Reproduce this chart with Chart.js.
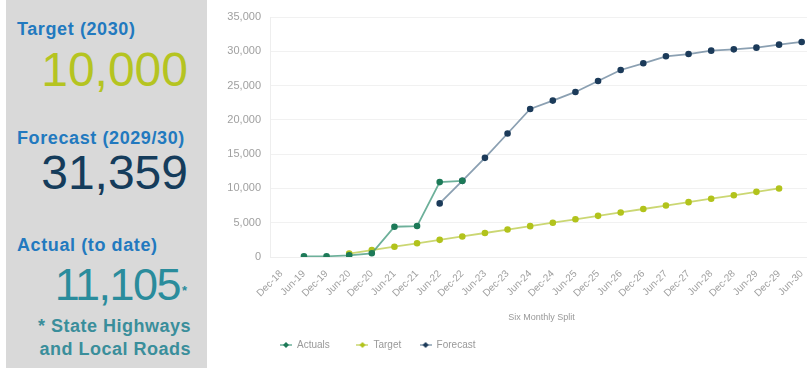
<!DOCTYPE html>
<html>
<head>
<meta charset="utf-8">
<script src="https://cdn.jsdelivr.net/npm/chart.js@4.4.1/dist/chart.umd.min.js"></script>
<style>
  html, body { margin: 0; padding: 0; background: #fff; }
  body { width: 807px; height: 371px; overflow: hidden; position: relative; font-family: "Liberation Sans", Arial, sans-serif; }
  #panel { position: absolute; left: 6px; top: 0; width: 201px; height: 368px; background: #d9d9d9; }
  .lbl { position: absolute; left: 17px; font-size: 18px; line-height: 18px; font-weight: bold; color: #2279bf; white-space: nowrap; letter-spacing: 0.6px; }
  .big { position: absolute; right: 619px; font-size: 48px; line-height: 48px; white-space: nowrap; }
  #actual { top: 262px; right: 627px; font-size: 45px; line-height: 45px; letter-spacing: -1.5px; color: #2a8c9c; }
  #star { position: absolute; left: 182px; top: 284px; font-size: 13px; line-height: 13px; font-weight: bold; color: #2a8c9c; }
  #note { position: absolute; right: 616px; top: 315px; font-size: 18px; line-height: 22.5px; font-weight: bold; color: #3a8e9b; text-align: right; white-space: nowrap; letter-spacing: 0.5px; }
  #wrap { position: absolute; left: 210px; top: 0; width: 620px; height: 371px; }
</style>
</head>
<body>
<div id="panel"></div>
<div class="lbl" style="top:20px">Target (2030)</div>
<div class="big" style="top:46px; color:#b5c421">10,000</div>
<div class="lbl" style="top:129px">Forecast (2029/30)</div>
<div class="big" style="top:149px; color:#153c5b">31,359</div>
<div class="lbl" style="top:236px">Actual (to date)</div>
<div class="big" id="actual">11,105</div>
<div id="star">*</div>
<div id="note">* State Highways<br>and Local Roads</div>
<div id="wrap"><canvas id="chart" width="620" height="371"></canvas></div>
<script>
// Six monthly periods
const periods = ["Dec-18", "Jun-19", "Dec-19", "Jun-20", "Dec-20", "Jun-21", "Dec-21", "Jun-22",
  "Dec-22", "Jun-23", "Dec-23", "Jun-24", "Dec-24", "Jun-25", "Dec-25", "Jun-26", "Dec-26",
  "Jun-27", "Dec-27", "Jun-28", "Dec-28", "Jun-29", "Dec-29", "Jun-30"];

const actuals = [null, 100, 100, 250, 540, 4410, 4510, 10920, 11105,
  null, null, null, null, null, null, null, null, null, null, null, null, null, null, null];

const target = [null, null, null, 500, 1000, 1500, 2000, 2500, 3000, 3500, 4000, 4500,
  5000, 5500, 6000, 6500, 7000, 7500, 8000, 8500, 9000, 9500, 10000, null];

const forecast = [null, null, null, null, null, null, null, 7820, 11105, 14460, 18010, 21590,
  22810, 24070, 25670, 27270, 28250, 29270, 29600, 30090, 30280, 30530, 30970, 31359];

const yTicks = [0, 5000, 10000, 15000, 20000, 25000, 30000, 35000];

const series = [
  { label: "Actuals", data: actuals, dot: "#1d7a58", line: "rgba(60,150,120,0.75)", gap: 6 },
  { label: "Target", data: target, dot: "#b2c31c", line: "rgba(190,205,80,0.8)", gap: 3 },
  { label: "Forecast", data: forecast, dot: "#1c3b5a", line: "rgba(90,120,145,0.7)", gap: 0 },
];

// little line-with-marker icon for the legend
function legendIcon(lineCol, dotCol) {
  const c = document.createElement("canvas");
  c.width = 12; c.height = 8;
  const g = c.getContext("2d");
  g.strokeStyle = lineCol; g.lineWidth = 1.5;
  g.beginPath(); g.moveTo(0, 4); g.lineTo(12, 4); g.stroke();
  g.fillStyle = dotCol;
  g.beginPath(); g.moveTo(6, 1); g.lineTo(9, 4); g.lineTo(6, 7); g.lineTo(3, 4); g.closePath(); g.fill();
  return c;
}

const tickFont = { family: "Liberation Sans", size: 10 };

new Chart(document.getElementById("chart"), {
  type: "line",
  data: {
    labels: periods,
    datasets: series.map((s) => ({
      label: s.label,
      data: s.data,
      borderColor: s.line,
      backgroundColor: s.dot,
      pointBackgroundColor: s.dot,
      pointBorderColor: s.dot,
      pointRadius: 2.4,
      borderWidth: 1.8,
      tension: 0,
      spanGaps: false,
    })),
  },
  options: {
    responsive: false,
    animation: false,
    layout: { padding: { top: 17, right: 17, left: 0, bottom: 11 } },
    plugins: {
      tooltip: { enabled: false },
      legend: {
        position: "bottom",
        align: "start",
        fullSize: false,
        labels: {
          usePointStyle: true,
          pointStyleWidth: 12,
          padding: 10,
          color: "#999",
          font: { family: "Liberation Sans", size: 10 },
          generateLabels: (chart) =>
            Chart.defaults.plugins.legend.labels.generateLabels(chart).map((l, i) => {
              l.pointStyle = legendIcon(series[i].line, series[i].dot);
              l.text = l.text + " ".repeat(series[i].gap);
              return l;
            }),
        },
      },
    },
    scales: {
      y: {
        min: 0,
        max: 35000,
        afterBuildTicks: (scale) => { scale.ticks = yTicks.map((v) => ({ value: v })); },
        afterFit: (scale) => { scale.width = 60; },
        ticks: {
          padding: 9,
          color: "#a0a0a0",
          font: { family: "Liberation Sans", size: 11 },
          callback: (v) => v.toLocaleString("en-US"),
        },
        grid: { color: "#f1f1f1", drawTicks: false },
        border: { color: "#eeeeee" },
      },
      x: {
        offset: true,
        afterFit: (scale) => { scale.height = 73; },
        ticks: {
          autoSkip: false,
          maxRotation: 45,
          minRotation: 45,
          color: "#a0a0a0",
          font: tickFont,
        },
        grid: { display: false },
        border: { color: "#eeeeee" },
        title: {
          display: true,
          text: "Six Monthly Split",
          color: "#999",
          font: { family: "Liberation Sans", size: 9 },
          padding: { top: 4, bottom: 7 },
        },
      },
    },
  },
});
</script>
</body>
</html>
